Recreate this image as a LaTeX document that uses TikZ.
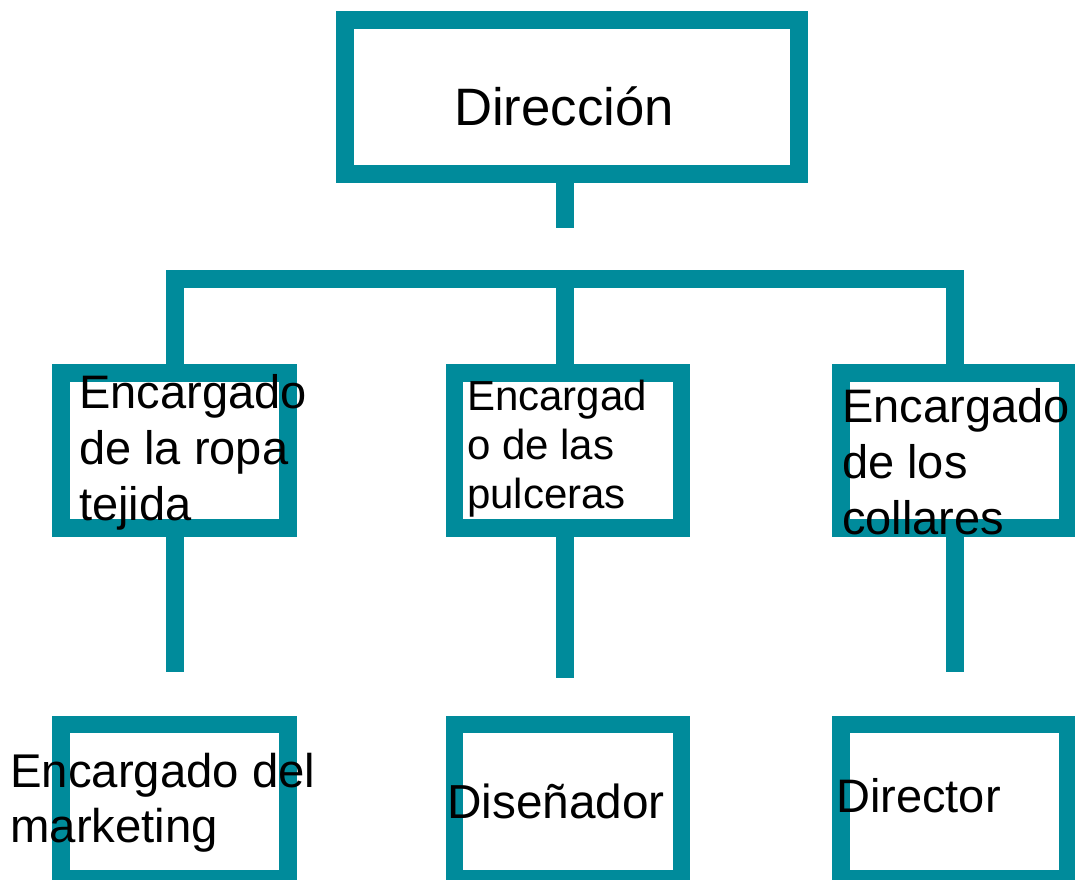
\documentclass[tikz,border=0pt]{standalone}
\usepackage{fontspec}
\setmainfont{Liberation Sans}
\usepackage{tikz}
\usetikzlibrary{positioning}
\definecolor{orgteal}{RGB}{0,139,155}
\tikzstyle{orgbox} = [rectangle, draw=orgteal, line width=13.125pt, inner sep=0pt, outer sep=0pt, fill=white]
\tikzstyle{conn} = [draw=orgteal, line width=13.125pt, line join=miter, line cap=butt]
\tikzstyle{boxtext} = [anchor=base west, inner sep=0pt, align=left, font=\fontsize{35.25pt}{42pt}\selectfont]

\begin{document}
\begin{tikzpicture}[x=0.75pt, y=-0.75pt]
    \useasboundingbox (0,0) rectangle (1075,879);
    % boxes
    \node (direccion) [orgbox, minimum width=340.5pt, minimum height=115.5pt] at (572,97) {};
    \node (ropa) [orgbox, minimum width=170.25pt, minimum height=116.25pt] at (174.5,450.5) {};
    \node (pulceras) [orgbox, minimum width=170.25pt, minimum height=116.25pt] at (568,450.5) {};
    \node (collares) [orgbox, minimum width=169.875pt, minimum height=116.25pt] at (954.25,450.5) {};
    \node (marketing) [orgbox, minimum width=170.25pt, minimum height=115.5pt] at (174.5,801.5) {};
    \node (disenador) [orgbox, minimum width=170.25pt, minimum height=115.5pt] at (568,801.5) {};
    \node (director) [orgbox, minimum width=169.875pt, minimum height=115.5pt] at (954.25,801.5) {};

    \coordinate (tstem) at (565,228);
    \coordinate (j1) at (175,279);
    \coordinate (j2) at (565,279);
    \coordinate (j3) at (955,279);
    \coordinate (e1) at (175,672);
    \coordinate (e2) at (565,678);
    \coordinate (e3) at (955,672);

    \draw [conn] (direccion.south -| tstem) -- (tstem);
    \draw [conn] (j1 |- ropa.north) -- (j1) -- (j3) -- (j3 |- collares.north);
    \draw [conn] (j2) -- (j2 |- pulceras.north);
    \draw [conn] (e1 |- ropa.south) -- (e1);
    \draw [conn] (e2 |- pulceras.south) -- (e2);
    \draw [conn] (e3 |- collares.south) -- (e3);

    % texts (base = last line)
    \node (direcciontxt) [boxtext, font=\fontsize{39.5pt}{47pt}\selectfont] at (454,125) {Dirección};
    \node (ropatxt) [boxtext] at (79,520) {Encargado\\de la ropa\\tejida};
    \node (pulcerastxt) [boxtext, font=\fontsize{31.5pt}{36.75pt}\selectfont] at (467,508) {Encargad\\o de las\\pulceras};
    \node (collarestxt) [boxtext] at (842,534) {Encargado\\de los\\collares};
    \node (marketingtxt) [boxtext, font=\fontsize{35.5pt}{41.25pt}\selectfont] at (10,842) {Encargado del\\marketing};
    \node (disenadortxt) [boxtext, font=\fontsize{35.8pt}{42pt}\selectfont] at (447,818) {Diseñador};
    \node (directortxt) [boxtext] at (836,812) {Director};
\end{tikzpicture}
\end{document}
